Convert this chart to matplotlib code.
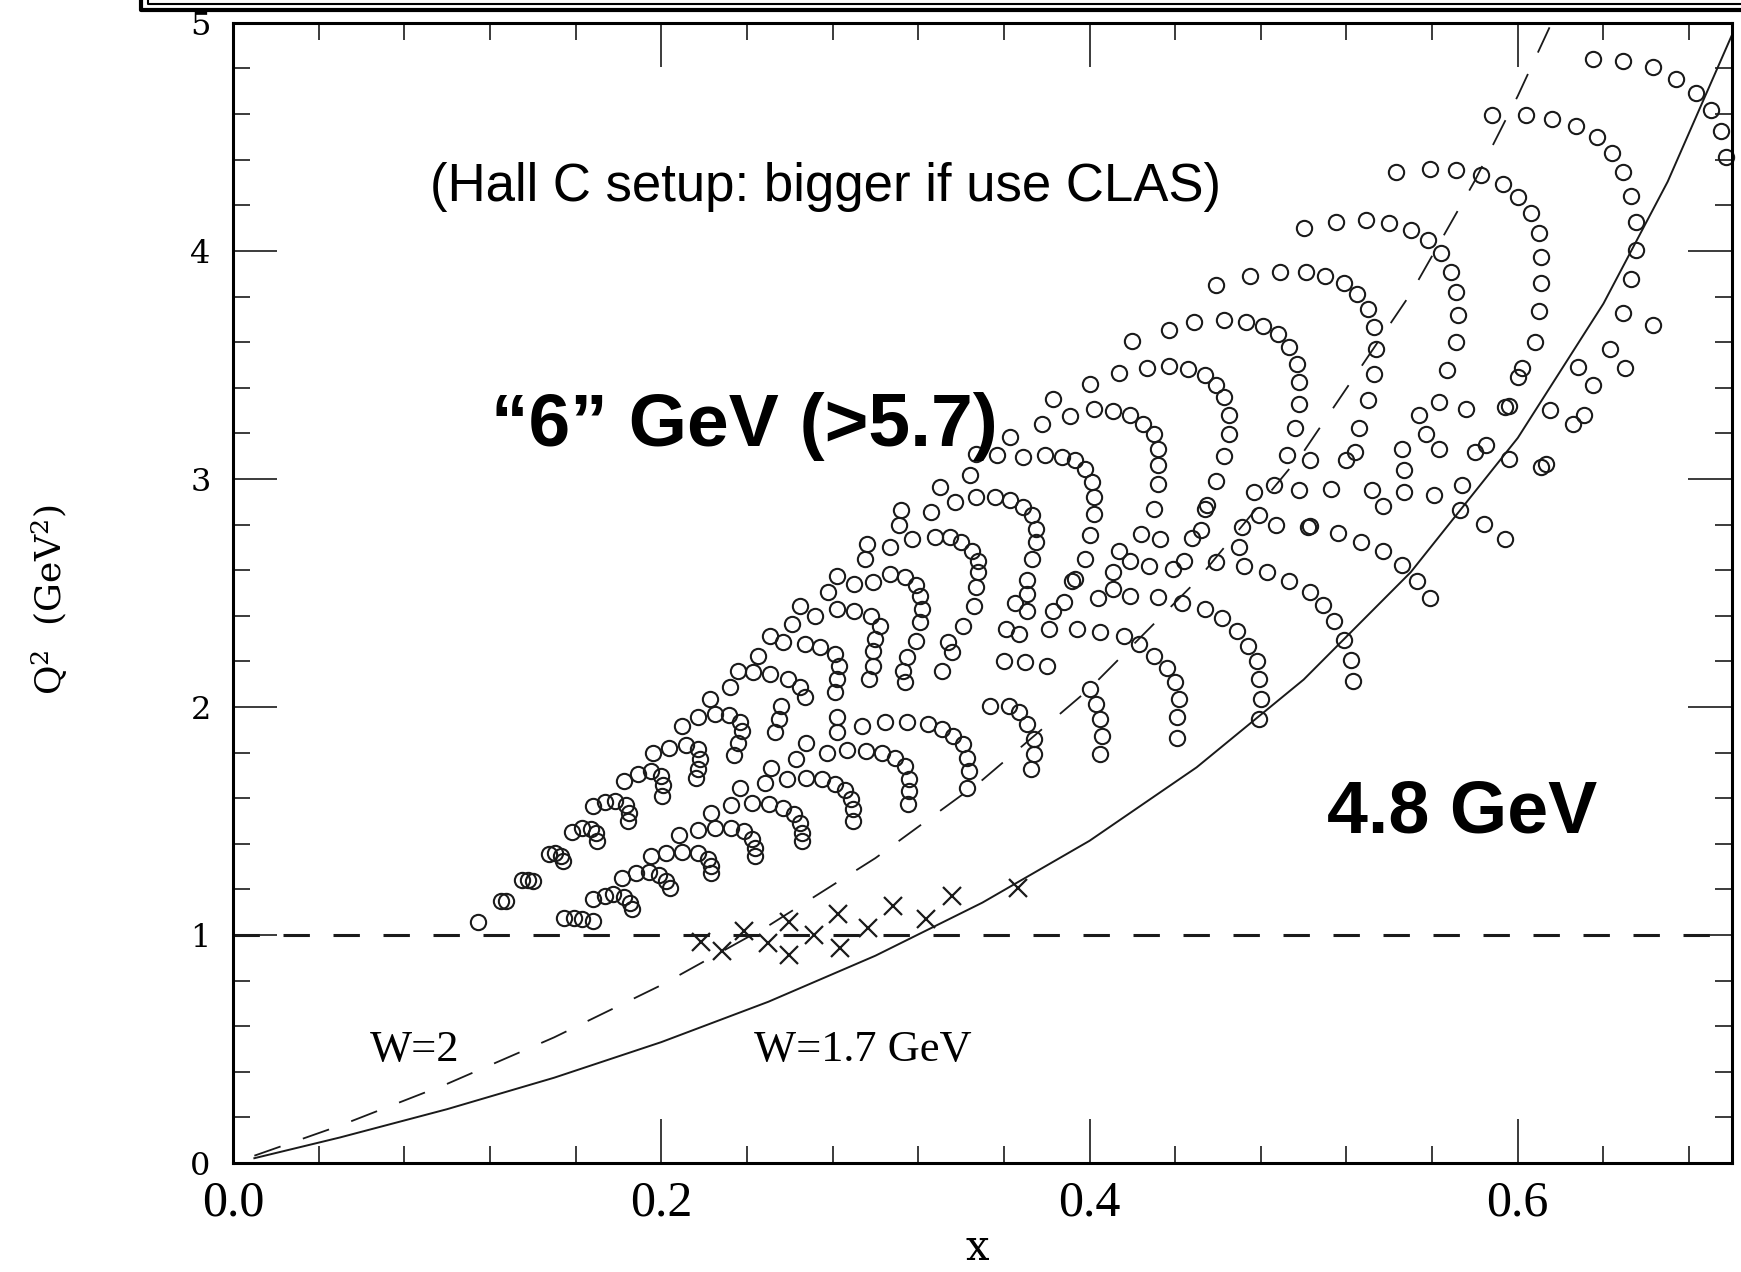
import numpy as np
import matplotlib.pyplot as plt
from matplotlib.lines import Line2D

plt.rcParams['lines.scale_dashes'] = False
plt.rcParams['mathtext.fontset'] = 'dejavuserif'

# kinematic coverage points (x, Q^2), grouped by region
pts_top_right = [
    (0.635, 4.843), (0.649, 4.834), (0.663, 4.805), (0.674, 4.755), (0.683, 4.692), (0.690, 4.619),
    (0.695, 4.524), (0.697, 4.414),
    (0.588, 4.597), (0.604, 4.597), (0.616, 4.580), (0.627, 4.546), (0.637, 4.499), (0.644, 4.429),
    (0.649, 4.345), (0.653, 4.241), (0.655, 4.129), (0.655, 4.004), (0.653, 3.877), (0.649, 3.726),
    (0.643, 3.572),
    (0.543, 4.345), (0.559, 4.360), (0.571, 4.356), (0.583, 4.334), (0.593, 4.294), (0.600, 4.236),
    (0.606, 4.165), (0.610, 4.077), (0.611, 3.975), (0.611, 3.858), (0.610, 3.736), (0.608, 3.601),
    (0.602, 3.487), (0.600, 3.448),
    (0.663, 3.677), (0.650, 3.487), (0.635, 3.411), (0.628, 3.492), (0.631, 3.279), (0.626, 3.243),
    (0.615, 3.301),
    (0.500, 4.102), (0.515, 4.126), (0.529, 4.136), (0.540, 4.121), (0.550, 4.092), (0.558, 4.048),
    (0.564, 3.989), (0.569, 3.909), (0.571, 3.821), (0.572, 3.721), (0.571, 3.601), (0.567, 3.477),
    (0.563, 3.338), (0.576, 3.305), (0.594, 3.316), (0.596, 3.322),
]
pts_mid_right = [
    (0.459, 3.850), (0.475, 3.890), (0.489, 3.909), (0.501, 3.906), (0.510, 3.891), (0.519, 3.858),
    (0.525, 3.809), (0.530, 3.745), (0.533, 3.667), (0.534, 3.572), (0.533, 3.462), (0.530, 3.348),
    (0.526, 3.224),
    (0.554, 3.279), (0.557, 3.199), (0.563, 3.133), (0.546, 3.133), (0.547, 3.037), (0.580, 3.118),
    (0.585, 3.147), (0.596, 3.089), (0.613, 3.067), (0.611, 3.052), (0.574, 2.972), (0.561, 2.928),
    (0.547, 2.942), (0.532, 2.950), (0.513, 2.957), (0.498, 2.950), (0.503, 3.081), (0.492, 3.103),
    (0.524, 3.118), (0.520, 3.081), (0.477, 2.942), (0.486, 2.972),
    (0.420, 3.604), (0.437, 3.653), (0.449, 3.689), (0.463, 3.696), (0.473, 3.689), (0.481, 3.672),
    (0.488, 3.634), (0.493, 3.579), (0.497, 3.506), (0.498, 3.426), (0.498, 3.330), (0.496, 3.224),
    (0.400, 3.418), (0.414, 3.465), (0.427, 3.487), (0.437, 3.496), (0.446, 3.484), (0.454, 3.455),
    (0.459, 3.414), (0.463, 3.360), (0.465, 3.279), (0.465, 3.199), (0.463, 3.101), (0.459, 2.993),
    (0.402, 3.308), (0.411, 3.297), (0.419, 3.279), (0.425, 3.243), (0.430, 3.199), (0.432, 3.133),
    (0.432, 3.059), (0.432, 2.979),
    (0.383, 3.352), (0.378, 3.243), (0.391, 3.276), (0.363, 3.184), (0.347, 3.111), (0.357, 3.103),
    (0.369, 3.096), (0.379, 3.106), (0.387, 3.096), (0.393, 3.081), (0.398, 3.045), (0.401, 2.986),
    (0.344, 3.016), (0.330, 2.964),
]
pts_low_right = [
    (0.402, 2.920), (0.402, 2.847), (0.400, 2.752), (0.398, 2.649),
    (0.430, 2.866), (0.455, 2.884), (0.454, 2.866), (0.479, 2.843), (0.537, 2.881), (0.573, 2.862),
    (0.424, 2.759), (0.433, 2.737), (0.448, 2.740), (0.452, 2.774), (0.471, 2.789), (0.470, 2.701),
    (0.487, 2.796), (0.502, 2.789), (0.503, 2.795), (0.516, 2.764), (0.527, 2.725), (0.537, 2.682),
    (0.546, 2.623), (0.553, 2.554), (0.559, 2.477), (0.584, 2.803), (0.594, 2.737),
    (0.414, 2.686), (0.419, 2.642), (0.428, 2.620), (0.439, 2.605), (0.444, 2.642), (0.459, 2.635),
    (0.472, 2.620), (0.483, 2.594), (0.493, 2.554), (0.503, 2.503), (0.509, 2.447), (0.514, 2.378),
    (0.519, 2.295), (0.522, 2.206), (0.523, 2.115),
    (0.411, 2.594), (0.411, 2.518), (0.404, 2.477), (0.419, 2.485), (0.432, 2.481), (0.443, 2.456),
    (0.454, 2.430), (0.462, 2.389), (0.469, 2.334), (0.474, 2.269), (0.478, 2.203), (0.479, 2.122),
    (0.480, 2.037), (0.479, 1.946),
    (0.405, 2.327), (0.416, 2.312), (0.423, 2.276), (0.430, 2.225), (0.436, 2.169), (0.440, 2.108),
    (0.442, 2.034), (0.441, 1.954), (0.441, 1.866),
    (0.400, 2.078), (0.403, 2.012), (0.405, 1.949), (0.406, 1.873), (0.405, 1.793),
]
pts_center = [
    (0.337, 2.898), (0.347, 2.920), (0.356, 2.920), (0.363, 2.906), (0.369, 2.877), (0.373, 2.840),
    (0.375, 2.781), (0.375, 2.723), (0.373, 2.649), (0.371, 2.558), (0.371, 2.496), (0.365, 2.456),
    (0.371, 2.422),
    (0.312, 2.862), (0.326, 2.857), (0.311, 2.796), (0.317, 2.737), (0.328, 2.745), (0.335, 2.747),
    (0.340, 2.723), (0.345, 2.686), (0.348, 2.642), (0.348, 2.591), (0.347, 2.525), (0.346, 2.444),
    (0.341, 2.356), (0.334, 2.283), (0.336, 2.242), (0.331, 2.159),
    (0.296, 2.715), (0.307, 2.701), (0.295, 2.649), (0.282, 2.576), (0.299, 2.547), (0.290, 2.540),
    (0.307, 2.583), (0.314, 2.569), (0.319, 2.535), (0.321, 2.488), (0.322, 2.430), (0.321, 2.371),
    (0.319, 2.290), (0.315, 2.217), (0.313, 2.159), (0.314, 2.108),
    (0.278, 2.503), (0.265, 2.444), (0.272, 2.398), (0.282, 2.430), (0.290, 2.422), (0.298, 2.400),
    (0.302, 2.356), (0.300, 2.298), (0.299, 2.247), (0.299, 2.181), (0.297, 2.122),
    (0.261, 2.364), (0.251, 2.312), (0.257, 2.283), (0.267, 2.276), (0.274, 2.261), (0.281, 2.232),
    (0.283, 2.181), (0.282, 2.122), (0.281, 2.064),
    (0.245, 2.225), (0.236, 2.159), (0.243, 2.152), (0.251, 2.144), (0.259, 2.122), (0.265, 2.086),
    (0.267, 2.042), (0.232, 2.086), (0.223, 2.034),
    (0.361, 2.342), (0.367, 2.320), (0.360, 2.203), (0.370, 2.196), (0.381, 2.342), (0.394, 2.342),
    (0.380, 2.181), (0.392, 2.554), (0.393, 2.560), (0.388, 2.459), (0.383, 2.422),
]
pts_low_left = [
    (0.1145, 1.056), (0.1254, 1.148), (0.1273, 1.148),
    (0.1352, 1.243), (0.1380, 1.240), (0.1399, 1.236),
    (0.1478, 1.353), (0.1506, 1.358), (0.1534, 1.346), (0.1543, 1.324),
    (0.1584, 1.451), (0.1632, 1.471), (0.1670, 1.463), (0.1696, 1.446), (0.1699, 1.412),
    (0.1680, 1.565), (0.1738, 1.583), (0.1786, 1.587), (0.1835, 1.569), (0.1850, 1.536), (0.1844, 1.500),
    (0.1825, 1.675), (0.1893, 1.705), (0.1951, 1.719), (0.1999, 1.695), (0.2009, 1.656), (0.2005, 1.609),
    (0.1960, 1.800), (0.2038, 1.822), (0.2115, 1.832), (0.2173, 1.815), (0.2183, 1.771), (0.2173, 1.727),
    (0.2163, 1.690),
    (0.2096, 1.917), (0.2173, 1.954), (0.2250, 1.968), (0.2318, 1.964), (0.2366, 1.932), (0.2376, 1.895),
    (0.2357, 1.844), (0.2338, 1.788),
    (0.1545, 1.075), (0.1593, 1.075), (0.1632, 1.072), (0.1680, 1.060),
    (0.1680, 1.159), (0.1738, 1.173), (0.1777, 1.178), (0.1825, 1.167), (0.1854, 1.141), (0.1864, 1.115),
    (0.1815, 1.251), (0.1883, 1.270), (0.1941, 1.276), (0.1989, 1.261), (0.2024, 1.236), (0.2043, 1.207),
    (0.1951, 1.346), (0.2024, 1.361), (0.2096, 1.363), (0.2173, 1.358), (0.2218, 1.334), (0.2231, 1.302),
    (0.2231, 1.273),
    (0.2082, 1.437), (0.2173, 1.460), (0.2250, 1.471), (0.2328, 1.471), (0.2386, 1.456), (0.2424, 1.422),
    (0.2438, 1.383), (0.2438, 1.346),
    (0.2231, 1.536), (0.2328, 1.569), (0.2424, 1.577), (0.2502, 1.573), (0.2569, 1.558), (0.2618, 1.529),
    (0.2647, 1.493), (0.2656, 1.449), (0.2656, 1.412),
    (0.2366, 1.646), (0.2483, 1.668), (0.2589, 1.686), (0.2676, 1.690), (0.2753, 1.683), (0.2811, 1.661),
    (0.2859, 1.636), (0.2888, 1.595), (0.2894, 1.551), (0.2894, 1.500),
    (0.2511, 1.734), (0.2628, 1.771), (0.2772, 1.800), (0.2869, 1.811), (0.2956, 1.807), (0.3033, 1.800),
    (0.3091, 1.778), (0.3139, 1.741), (0.3159, 1.683), (0.3159, 1.631), (0.3153, 1.573),
    (0.2676, 1.844), (0.2821, 1.888), (0.2821, 1.954), (0.2937, 1.917), (0.3043, 1.935), (0.3149, 1.935),
    (0.3246, 1.924), (0.3313, 1.902), (0.3362, 1.873), (0.3410, 1.836), (0.3430, 1.778), (0.3436, 1.719),
    (0.3430, 1.646),
    (0.3536, 2.005), (0.3622, 2.005), (0.3671, 1.976), (0.3710, 1.924), (0.3739, 1.859), (0.3739, 1.793),
    (0.3725, 1.727),
    (0.2532, 1.889), (0.2550, 1.946), (0.2560, 2.003),
]
pts_cross = [
    (0.2186, 0.968), (0.2285, 0.928), (0.2386, 1.016), (0.2498, 0.965), (0.2598, 1.056), (0.2598, 0.914),
    (0.2714, 1.002), (0.2827, 1.090), (0.2836, 0.943), (0.2966, 1.031), (0.3082, 1.129), (0.3236, 1.071),
    (0.3358, 1.170), (0.3667, 1.207),
]
# W = 2 GeV (dashed) and W = 1.7 GeV (solid) curves
w2_x = [0.01, 0.05, 0.10, 0.15, 0.20, 0.25, 0.30, 0.35, 0.40, 0.45, 0.50, 0.55, 0.58, 0.60, 0.615]
w2_q2 = [0.032, 0.164, 0.347, 0.551, 0.780, 1.040, 1.337, 1.680, 2.080, 2.553, 3.120, 3.813, 4.309, 4.680, 4.984]
w17_x = [0.01, 0.05, 0.10, 0.15, 0.20, 0.25, 0.30, 0.35, 0.40, 0.45, 0.50, 0.55, 0.60, 0.64, 0.67, 0.70]
w17_q2 = [0.021, 0.112, 0.236, 0.374, 0.530, 0.707, 0.909, 1.142, 1.413, 1.735, 2.120, 2.591, 3.180,
          3.769, 4.304, 4.947]
q2_cut = 1.0
x_ticks = [0.0, 0.2, 0.4, 0.6]
x_labels = ['0.0', '0.2', '0.4', '0.6']
y_ticks = [0, 1, 2, 3, 4, 5]
y_labels = ['0', '1', '2', '3', '4', '5']

serif = ['Liberation Serif', 'DejaVu Serif']
serif2 = ['DejaVu Serif']
sans = ['Liberation Sans', 'DejaVu Sans']

fig = plt.figure(figsize=(17.41, 12.72), dpi=100)
ax = fig.add_axes([0.1338, 0.0857, 0.8610, 0.8963])

for grp in [pts_top_right, pts_mid_right, pts_low_right, pts_center, pts_low_left]:
    xs, ys = np.array(grp).T
    ax.plot(xs, ys, 'o', ms=11, mfc='none', mec='#1a1a1a', mew=1.5, clip_on=False)

cx, cy = np.array(pts_cross).T
ax.plot(cx, cy, 'x', ms=12.5, mec='#1a1a1a', mew=1.6)

ax.axhline(q2_cut, color='#1a1a1a', lw=2.2, dashes=(19, 17))
ax.plot(w2_x, w2_q2, color='#1a1a1a', lw=1.3, dashes=(20, 17))
ax.plot(w17_x, w17_q2, color='#1a1a1a', lw=1.4)

ax.set_xlim(0, 0.7)
ax.set_ylim(0, 5)
ax.set_xticks(x_ticks)
ax.set_xticklabels(x_labels, family=serif, fontsize=36)
ax.set_xticks(np.arange(0, 0.70, 0.04), minor=True)
ax.set_yticks(y_ticks)
ax.set_yticklabels(y_labels, family=serif2, fontsize=23)
ax.set_yticks(np.arange(0, 5.01, 0.2), minor=True)
ax.tick_params(which='both', direction='in', top=True, right=True, width=1.2, color='#1a1a1a')
ax.tick_params(which='major', length=32)
ax.tick_params(which='minor', length=12)
ax.tick_params(axis='x', pad=12)
ax.tick_params(axis='y', pad=16)
for sp in ax.spines.values():
    sp.set_linewidth(2.2)

ax.text(0.0918, 4.28, '(Hall C setup: bigger if use CLAS)', family=sans, fontsize=38, va='center')
ax.text(0.1207, 3.144, '\u201c6\u201d GeV (>5.7)', family=sans, fontsize=54, fontweight='bold',
        va='baseline')
ax.text(0.511, 1.450, '4.8 GeV', family=sans, fontsize=53, fontweight='bold', va='baseline')
ax.text(0.0639, 0.496, 'W=2', family=serif, fontsize=32, va='center')
ax.text(0.2434, 0.496, 'W=1.7 GeV', family=serif, fontsize=32, va='center')

fig.text(50 / 1741, 1 - 600 / 1272, r'Q$^{2}$  (GeV$^{2}$)', family=serif2, fontsize=26,
         rotation=90, ha='center', va='center')
fig.text(977 / 1741, 1 - 1260 / 1272, 'x', family=serif2, fontsize=30, ha='center', va='baseline')

# frame of the box above the plot
fig.add_artist(Line2D([141 / 1741, 141 / 1741, 1], [1, 1 - 10 / 1272, 1 - 10 / 1272],
                      transform=fig.transFigure, color='black', lw=3))
fig.add_artist(Line2D([148 / 1741, 148 / 1741, 1], [1, 1 - 4 / 1272, 1 - 4 / 1272],
                      transform=fig.transFigure, color='black', lw=1.5))

fig.savefig('out.png', dpi=100)
